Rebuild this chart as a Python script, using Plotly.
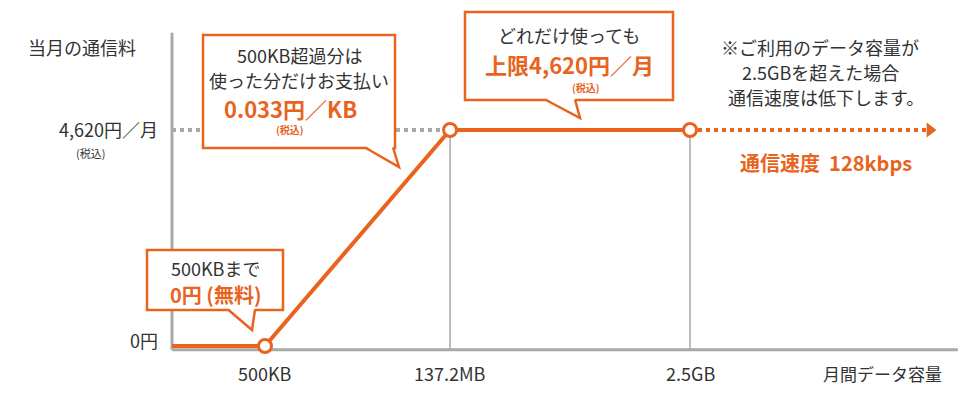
import plotly.graph_objects as go

# ---- data ----
x_labels = ["500KB", "137.2MB", "2.5GB"]
x_pos = [1.0, 2.99, 5.57]          # positions of x tick labels
price_cap = 4620                    # 円/月
price_zero = 0
line_x = [0, 1.0, 2.99, 5.57]
line_y = [0, 0, 4620, 4620]
throttle_x = [5.57, 8.15]
throttle_y = [4620, 4620]

OR = "#E8641E"
GR = "#A9A9A9"
TX = "#333333"
FONT = "Noto Sans CJK JP"
W, H = 980, 400
OFF = 8  # page body margin

def px(x):
    return (x - OFF) / W
def py(y):
    return 1 - (y - OFF) / H

fig = go.Figure()
fig.add_trace(go.Scatter(x=[0, 0], y=[-80, 6700], mode="lines", line=dict(color=GR, width=3), hoverinfo="skip"))
fig.add_trace(go.Scatter(x=[0, 8.45], y=[-80, -80], mode="lines", line=dict(color=GR, width=3), hoverinfo="skip"))
for xv in x_pos[1:]:
    fig.add_trace(go.Scatter(x=[xv, xv], y=[-80, price_cap], mode="lines", line=dict(color=GR, width=1.5), hoverinfo="skip"))
fig.add_trace(go.Scatter(x=[0, x_pos[1]], y=[price_cap, price_cap], mode="lines",
                         line=dict(color=GR, width=4, dash="dot"), hoverinfo="skip"))
fig.add_trace(go.Scatter(x=throttle_x, y=throttle_y, mode="lines",
                         line=dict(color=OR, width=4, dash="dot"), hoverinfo="skip"))
fig.add_trace(go.Scatter(x=[throttle_x[1]], y=[price_cap], mode="markers",
                         marker=dict(symbol="triangle-right", size=13, color=OR), hoverinfo="skip"))
fig.add_trace(go.Scatter(x=line_x, y=line_y, mode="lines", line=dict(color=OR, width=4), hoverinfo="skip"))
fig.add_trace(go.Scatter(x=x_pos, y=[0, price_cap, price_cap], mode="markers",
                         marker=dict(size=13, color="white", line=dict(color=OR, width=3)), hoverinfo="skip"))

shapes = []
ann = []

def box(x0, y0, x1, y1, tail):
    shapes.append(dict(type="rect", xref="paper", yref="paper", x0=px(x0), x1=px(x1), y0=py(y1), y1=py(y0),
                       fillcolor="white", line=dict(color=OR, width=2.5)))
    (ax, ay), (bx, by), (tx, ty) = tail
    shapes.append(dict(type="path", xref="paper", yref="paper",
                       path=f"M{px(ax)},{py(ay)} L{px(tx)},{py(ty)} L{px(bx)},{py(by)} Z",
                       fillcolor="white", line=dict(width=0)))
    shapes.append(dict(type="path", xref="paper", yref="paper",
                       path=f"M{px(ax)},{py(ay+1.5)} L{px(tx)},{py(ty)} L{px(bx)},{py(by+1.5)}",
                       line=dict(color=OR, width=2.5)))

def text(x, y, s, size=18, color=TX, anchor="center", bold=False):
    if bold:
        s = f"<b>{s}</b>"
    ann.append(dict(xref="paper", yref="paper", x=px(x), y=py(y), text=s, showarrow=False,
                    xanchor=anchor, yanchor="middle", font=dict(family=FONT, size=size, color=color)))

box(203, 35, 395, 148, ((365, 146), (393, 146), (399, 167)))
text(299, 55, "500KB超過分は")
text(299, 80, "使った分だけお支払い")
text(290, 108, "0.033円／KB", size=22, color=OR, bold=True)
text(290, 129, "(税込)", size=10, color=OR, bold=True)

box(465, 12, 673, 100, ((545, 98), (575, 98), (580, 118)))
text(569, 35, "どれだけ使っても")
text(569, 64, "上限4,620円／月", size=22, color=OR, bold=True)
text(586, 87, "(税込)", size=10, color=OR, bold=True)

box(147, 250, 283, 310, ((228, 308), (255, 308), (252, 330)))
text(215, 268, "500KBまで")
text(215, 294, "0円 (無料)", size=20, color=OR, bold=True)

text(820, 47, "※ご利用のデータ容量が")
text(820, 72, "2.5GBを超えた場合")
text(826, 97, "通信速度は低下します。")
text(826, 162, "通信速度  128kbps", size=20, color=OR, bold=True)

text(26, 47, "当月の通信料", anchor="left")
text(160, 129, "4,620円／月", anchor="right")
text(90, 153, "(税込)", size=11)
text(160, 340, "0円", anchor="right")
for lab, xv in zip(x_labels, x_pos):
    ann.append(dict(x=xv, y=-80, xref="x", yref="y", text=lab, showarrow=False, yshift=-23,
                    font=dict(family=FONT, size=18, color=TX)))
text(882, 373, "月間データ容量", size=17)

fig.update_layout(
    width=W, height=H, margin=dict(l=0, r=0, t=0, b=0),
    paper_bgcolor="white", plot_bgcolor="white", showlegend=False,
    xaxis=dict(range=[-(172 - OFF) / 93, (980 + OFF - 172) / 93], visible=False, domain=[0, 1], fixedrange=True),
    yaxis=dict(range=[-(54 + OFF) * 4620 / 216, (346 - OFF) * 4620 / 216], visible=False, domain=[0, 1], fixedrange=True),
    shapes=shapes, annotations=ann,
)
fig.write_html("out.html")
